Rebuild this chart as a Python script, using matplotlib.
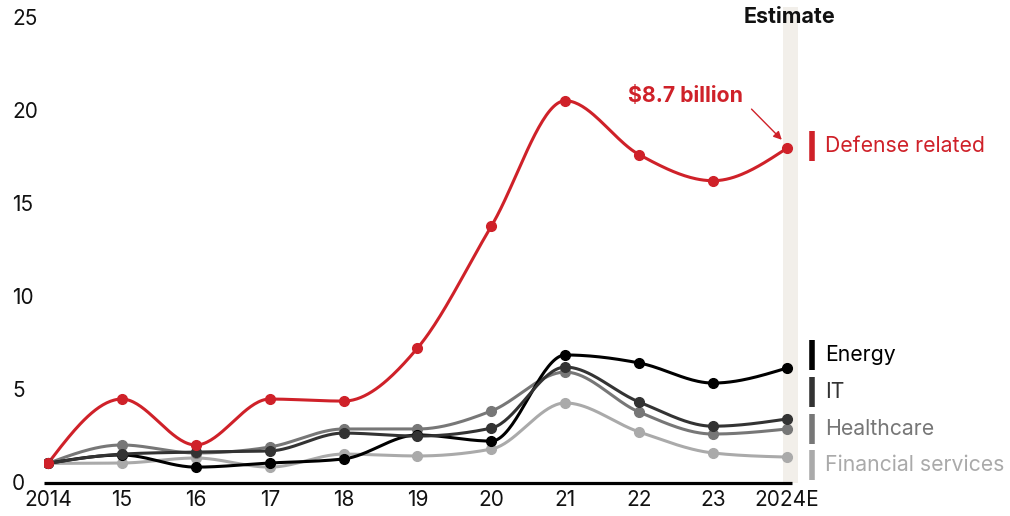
import numpy as np
import matplotlib.pyplot as plt

years = ["2014", "15", "16", "17", "18", "19", "20", "21", "22", "23", "2024E"]

defense = [1.0, 4.46, 1.99, 4.46, 4.35, 7.2, 13.76, 20.5, 17.6, 16.2, 17.95]
energy = [1.0, 1.45, 0.8, 1.02, 1.24, 2.53, 2.2, 6.83, 6.4, 5.32, 6.13]
it = [1.0, 1.5, 1.61, 1.67, 2.63, 2.47, 2.9, 6.18, 4.3, 3.0, 3.39]
healthcare = [1.0, 1.99, 1.56, 1.88, 2.85, 2.85, 3.82, 5.91, 3.76, 2.58, 2.85]
financial = [1.0, 1.02, 1.29, 0.8, 1.5, 1.4, 1.77, 4.25, 2.69, 1.56, 1.34]

series_names = ["Financial services", "Healthcare", "Energy", "IT", "Defense related"]
series_values = [financial, healthcare, energy, it, defense]
series_colors = ["#aaaaaa", "#777777", "#000000", "#333333", "#cf2129"]
label_y = [0.91, 2.85, 6.83, 4.84, 18.06]

plt.rcParams['font.family'] = ['Inter', 'DejaVu Sans']


def monotone(y, n=40):
    # monotone cubic (same scheme as d3.curveMonotoneX), unit spacing
    y = np.asarray(y, float)
    s = np.diff(y)
    t = np.zeros_like(y)
    for i in range(1, len(y) - 1):
        p = (s[i - 1] + s[i]) / 2
        t[i] = (np.sign(s[i - 1]) + np.sign(s[i])) * min(abs(s[i - 1]), abs(s[i]), 0.5 * abs(p))
    t[0] = (3 * s[0] - t[1]) / 2
    t[-1] = (3 * s[-1] - t[-2]) / 2
    xs, ys = [], []
    u = np.linspace(0, 1, n)
    h00 = 2 * u**3 - 3 * u**2 + 1
    h10 = u**3 - 2 * u**2 + u
    h01 = -2 * u**3 + 3 * u**2
    h11 = u**3 - u**2
    for i in range(len(y) - 1):
        xs.append(i + u)
        ys.append(h00 * y[i] + h10 * t[i] + h01 * y[i + 1] + h11 * t[i + 1])
    return np.concatenate(xs), np.concatenate(ys)


fig = plt.figure(figsize=(10.10, 5.16), dpi=100)
ax = fig.add_axes([44 / 1010, 33 / 516, 754 / 1010, 476 / 516])
ax.set_xlim(-0.054, 10.149)
ax.set_ylim(-0.054, 25.54)

# estimate band
ax.axvspan(9.946, 10.149, color="#f2efea", zorder=0, lw=0)
ax.text(10.03, 0.979, "Estimate", transform=ax.get_xaxis_transform(), ha="center",
        va="center", fontsize=15.5, fontweight="bold", color="#111111")

x = np.arange(len(years))
for name, vals, col, ly in zip(series_names, series_values, series_colors, label_y):
    sx, sy = monotone(vals)
    ax.plot(sx, sy, color=col, lw=2.2, zorder=3, solid_capstyle="round")
    ax.plot(x, vals, "o", color=col, ms=7, zorder=4)
    ax.plot([10.34, 10.34], [ly - 0.8, ly + 0.8], color=col, lw=4, clip_on=False,
            solid_capstyle="butt")
    ax.text(10.51, ly, name, color=col, fontsize=15.3, va="center", ha="left")

ax.annotate("", xy=(9.93, 18.4), xytext=(9.52, 20.05),
            arrowprops=dict(arrowstyle="-|>", color="#cf2129", lw=1, mutation_scale=12,
                            shrinkA=0, shrinkB=0))
ax.text(8.63, 20.75, "$8.7 billion", color="#cf2129", fontsize=15.3, fontweight="bold",
        ha="center", va="center")

# baseline
ax.plot([-0.054, 10.07], [-0.054, -0.054], color="black", lw=2.3, clip_on=False,
        solid_capstyle="butt", zorder=5)

for sp in ax.spines.values():
    sp.set_visible(False)
ax.set_xticks(x)
ax.set_xticklabels(years)
ax.set_yticks([0, 5, 10, 15, 20, 25])
ax.tick_params(axis="both", length=0, labelsize=15, colors="#111111")
ax.tick_params(axis="x", pad=5)
ax.tick_params(axis="y", pad=23)
for lab in ax.get_yticklabels():
    lab.set_horizontalalignment("left")

fig.savefig("out.png", dpi=100)
